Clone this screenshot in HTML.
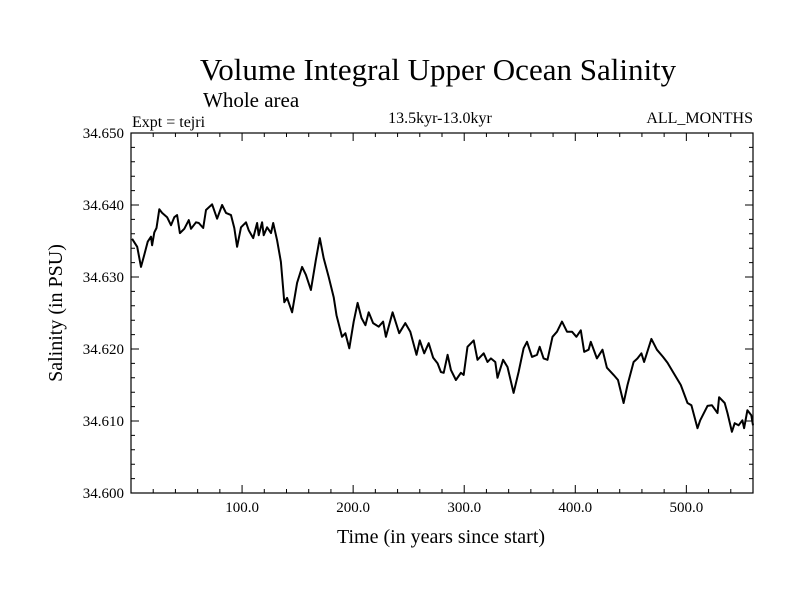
<!DOCTYPE html>
<html><head><meta charset="utf-8"><style>
html,body{margin:0;padding:0;background:#fff;}
svg{display:block;font-family:"Liberation Serif",serif;}
</style></head><body>
<svg id="chart" width="800" height="600">
<text x="438" y="80" font-size="31" text-anchor="middle">Volume Integral Upper Ocean Salinity</text>
<text x="203" y="107" font-size="21">Whole area</text>
<text x="132" y="127" font-size="16">Expt = tejri</text>
<text x="440" y="123" font-size="16" text-anchor="middle">13.5kyr-13.0kyr</text>
<text x="753" y="123" font-size="16" text-anchor="end">ALL_MONTHS</text>
<text x="441" y="543" font-size="20" text-anchor="middle">Time (in years since start)</text>
<text transform="translate(62,313) rotate(-90)" font-size="20" text-anchor="middle">Salinity (in PSU)</text>
<g id="axes"></g>
<rect x="131" y="133" width="622" height="360" fill="none" stroke="#000" stroke-width="1.2"/>
</svg>
<script>
const years=[1,5.6,9,12,15,18,19,21,23,25.5,28,32.5,36,39,41.5,44,48,52,54,58.5,61,65,67.5,73,77.5,82,85.5,90,93,95.5,99,103.5,106,110,113.5,115,118,119.5,122.5,126,128,131.5,135,138,140.5,145,149.5,154,157.5,162,166.5,170,173.5,178,182.5,185,190,193,196.5,200.5,204,207.5,211,214,218,223,227,229.5,235.5,241.5,247,251.5,257,260,264,268,272,276,279,281.5,285,288,292.5,297,299.5,303,308.5,312,317.5,321,324,328,330,335,339,344.5,349,353.5,356.5,361,365.5,368,371.5,375,379.5,383.5,388,392.5,397,401,405,408,412,414,419.5,424.5,428.5,434.5,438.5,443.5,447,452.5,456,459.5,462,468.5,473.5,479,483,488,495,501,504.5,510,512.5,519,523,528,529.5,534.5,537,541,543.5,547,550.5,552,555,558.5,560];
const salinity=[34.6353,34.6342,34.6314,34.6331,34.6349,34.6356,34.6344,34.6362,34.6368,34.6394,34.6389,34.6383,34.6372,34.6383,34.6386,34.6361,34.6367,34.6379,34.6367,34.6376,34.6375,34.6368,34.6393,34.6401,34.6381,34.6400,34.6389,34.6386,34.6368,34.6342,34.6369,34.6376,34.6365,34.6354,34.6375,34.6358,34.6376,34.6358,34.6369,34.6361,34.6375,34.6351,34.6321,34.6265,34.6271,34.6251,34.6292,34.6314,34.6303,34.6282,34.6324,34.6354,34.6326,34.6300,34.6272,34.6247,34.6217,34.6222,34.6201,34.6238,34.6264,34.6243,34.6233,34.6251,34.6236,34.6231,34.6238,34.6217,34.6251,34.6222,34.6236,34.6224,34.6192,34.6212,34.6194,34.6208,34.6188,34.6180,34.6168,34.6167,34.6192,34.6171,34.6157,34.6167,34.6164,34.6203,34.6212,34.6185,34.6194,34.6182,34.6187,34.6182,34.6160,34.6185,34.6175,34.6139,34.6168,34.6201,34.6210,34.6189,34.6192,34.6203,34.6187,34.6185,34.6217,34.6224,34.6238,34.6224,34.6224,34.6217,34.6226,34.6196,34.6199,34.6210,34.6187,34.6199,34.6174,34.6164,34.6157,34.6125,34.6150,34.6182,34.6187,34.6194,34.6182,34.6214,34.6199,34.6189,34.6181,34.6168,34.6150,34.6125,34.6122,34.6090,34.6101,34.6121,34.6122,34.6111,34.6133,34.6125,34.6111,34.6085,34.6097,34.6094,34.6101,34.6090,34.6115,34.6108,34.6094];
const xTicks=[100,200,300,400,500];
const xTickLabels=["100.0","200.0","300.0","400.0","500.0"];
const yTicks=[34.600,34.610,34.620,34.630,34.640,34.650];
const yTickLabels=["34.600","34.610","34.620","34.630","34.640","34.650"];
const X0=131,X1=753,Y0=493,Y1=133,XMIN=0,XMAX=560,YMIN=34.600,YMAX=34.650;
const sx=v=>X0+(v-XMIN)/(XMAX-XMIN)*(X1-X0);
const sy=v=>Y0-(v-YMIN)/(YMAX-YMIN)*(Y0-Y1);
const NS="http://www.w3.org/2000/svg";
const g=document.getElementById('axes');
function mk(t,a){const e=document.createElementNS(NS,t);for(const k in a)e.setAttribute(k,a[k]);g.appendChild(e);return e;}
let d="";
for(let v=20;v<XMAX;v+=20){const x=sx(v),big=v%100===0,L=big?8:4;
 d+=`M${x},${Y0}v${-L}M${x},${Y1}v${L}`;}
for(let i=0;i<=25;i++){const v=YMIN+i*0.002,y=sy(v),big=i%5===0,L=big?8:4;
 d+=`M${X0},${y}h${L}M${X1},${y}h${-L}`;}
const tk=mk('path',{d:d,stroke:'#000','stroke-width':1,fill:'none'});


xTicks.forEach((v,i)=>{const t=mk('text',{x:sx(v),y:512,'font-size':15,'text-anchor':'middle'});t.textContent=xTickLabels[i];
 
 });
yTicks.forEach((v,i)=>{const t=mk('text',{x:124,y:sy(v)+5,'font-size':15,'text-anchor':'end'});t.textContent=yTickLabels[i];
 
 });
const pts=years.map((v,i)=>sx(v).toFixed(1)+','+sy(salinity[i]).toFixed(1)).join(' ');
const line=mk('polyline',{points:pts,fill:'none',stroke:'#000','stroke-width':2,'stroke-linejoin':'round'});


</script>
</body></html>
